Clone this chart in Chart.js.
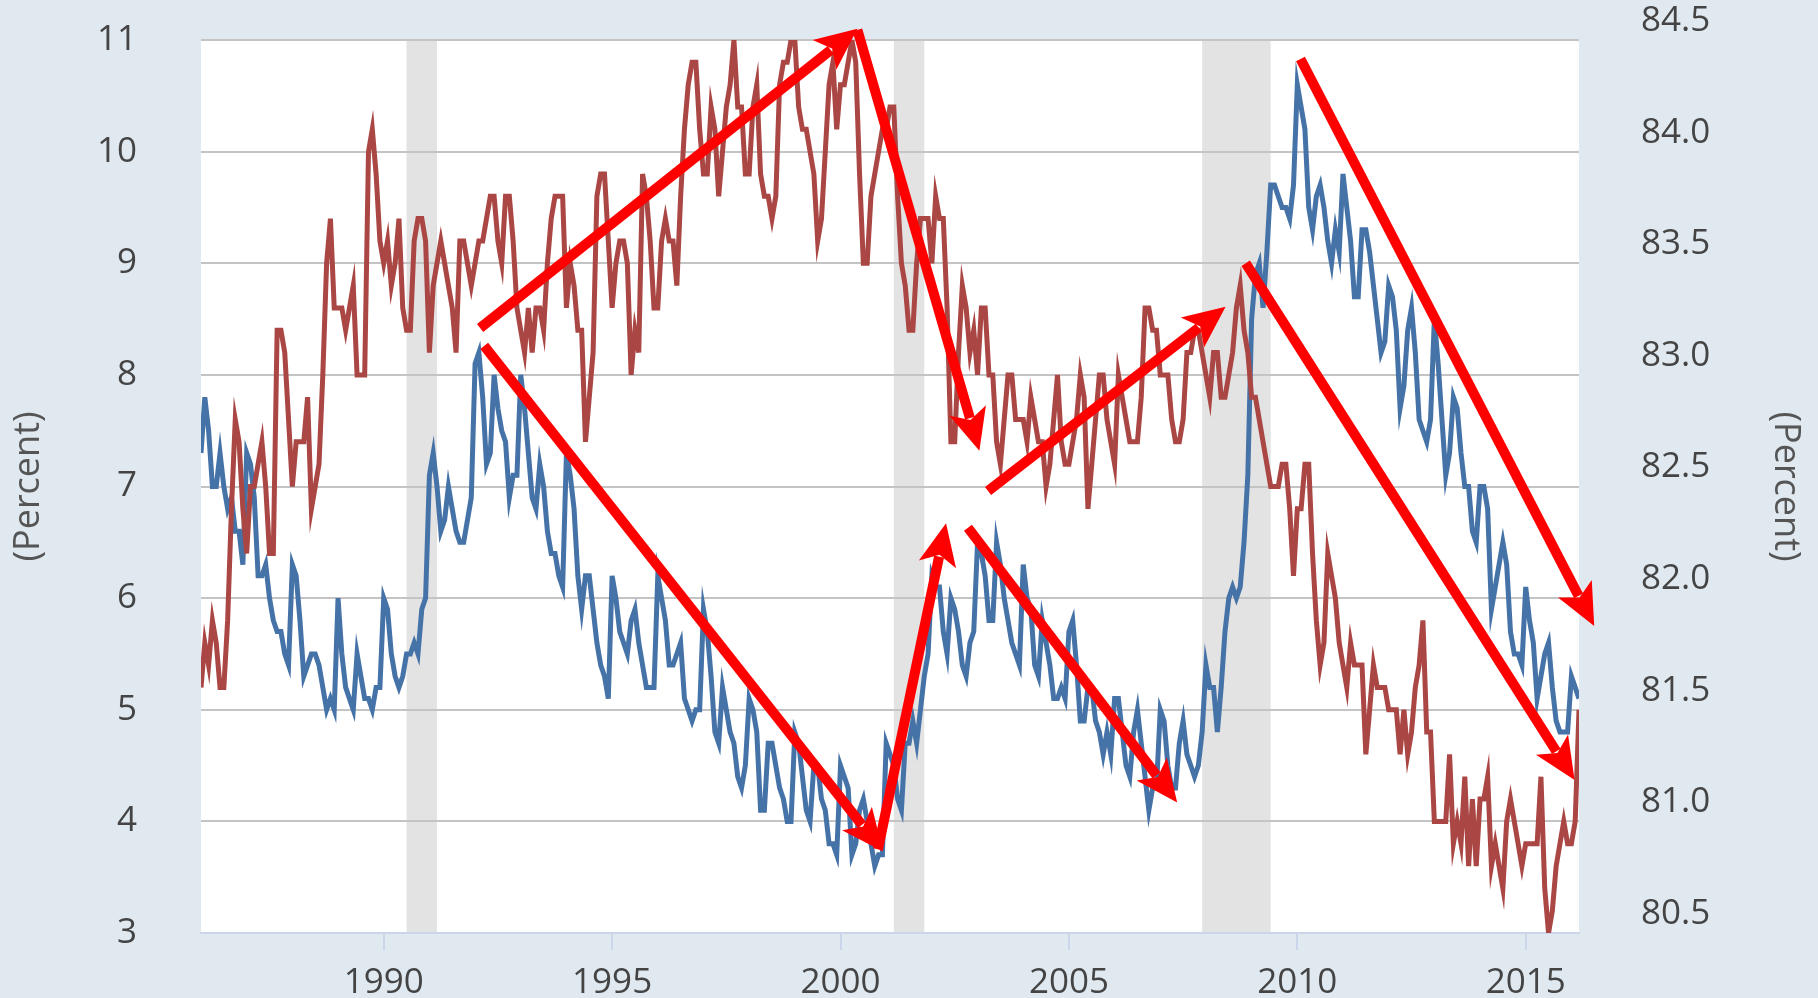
<!DOCTYPE html>
<html>
<head>
<meta charset="utf-8">
<script src="https://cdn.jsdelivr.net/npm/chart.js@4.4.1/dist/chart.umd.min.js"></script>
<style>
  html, body { margin: 0; padding: 0; background: #e1e9f0; }
  #wrap { width: 1818px; height: 998px; }
</style>
</head>
<body>
<div id="wrap"><canvas id="c" width="1818" height="998"></canvas></div>
<script>
// ---------- DATA (monthly, Jan 1986 - Mar 2016) ----------
const startYear = 1986;

// Unemployment rate, not seasonally adjusted (left axis, percent)
const unemployment1986to1995 = [
  7.3,7.8,7.5,7.0,7.0,7.3,7.0,6.8,6.9,6.6,6.6,6.3,
  7.3,7.2,6.9,6.2,6.2,6.3,6.0,5.8,5.7,5.7,5.5,5.4,
  6.3,6.2,5.8,5.3,5.4,5.5,5.5,5.4,5.2,5.0,5.1,5.0,
  6.0,5.5,5.2,5.1,5.0,5.5,5.3,5.1,5.1,5.0,5.2,5.2,
  6.0,5.9,5.5,5.3,5.2,5.3,5.5,5.5,5.6,5.5,5.9,6.0,
  7.1,7.3,7.0,6.6,6.7,7.0,6.8,6.6,6.5,6.5,6.7,6.9,
  8.1,8.2,7.8,7.2,7.3,8.0,7.7,7.5,7.4,6.9,7.1,7.1,
  8.0,7.7,7.3,6.9,6.8,7.2,7.0,6.6,6.4,6.4,6.2,6.1,
  7.3,7.1,6.8,6.2,5.9,6.2,6.2,5.9,5.6,5.4,5.3,5.1,
  6.2,6.0,5.7,5.6,5.5,5.8,5.9,5.6,5.4,5.2,5.2,5.2
];
const unemployment1996to2005 = [
  6.2,6.0,5.8,5.4,5.4,5.5,5.6,5.1,5.0,4.9,5.0,5.0,
  5.9,5.7,5.3,4.8,4.7,5.2,5.0,4.8,4.7,4.4,4.3,4.5,
  5.1,5.0,4.8,4.1,4.1,4.7,4.7,4.5,4.3,4.2,4.0,4.0,
  4.8,4.7,4.4,4.1,4.0,4.5,4.5,4.2,4.1,3.8,3.8,3.7,
  4.5,4.4,4.3,3.7,3.8,4.1,4.2,4.0,3.8,3.6,3.7,3.7,
  4.7,4.6,4.5,4.2,4.1,4.7,4.7,4.9,4.7,5.0,5.3,5.5,
  6.2,6.1,6.1,5.7,5.5,6.0,5.9,5.7,5.4,5.3,5.6,5.7,
  6.5,6.4,6.2,5.8,5.8,6.5,6.3,6.0,5.8,5.6,5.5,5.4,
  6.3,6.0,5.9,5.4,5.3,5.8,5.6,5.4,5.1,5.1,5.2,5.1,
  5.7,5.8,5.4,4.9,4.9,5.2,5.2,4.9,4.8,4.6,4.8,4.6
];
const unemployment2006to2016 = [
  5.1,5.1,4.8,4.5,4.4,4.8,5.0,4.7,4.4,4.1,4.3,4.3,
  5.0,4.9,4.5,4.3,4.3,4.7,4.9,4.6,4.5,4.4,4.5,4.8,
  5.4,5.2,5.2,4.8,5.2,5.7,6.0,6.1,6.0,6.1,6.5,7.1,
  8.5,8.9,9.0,8.6,9.1,9.7,9.7,9.6,9.5,9.5,9.4,9.7,
  10.6,10.4,10.2,9.5,9.3,9.6,9.7,9.5,9.2,9.0,9.3,9.1,
  9.8,9.5,9.2,8.7,8.7,9.3,9.3,9.1,8.8,8.5,8.2,8.3,
  8.8,8.7,8.4,7.7,7.9,8.4,8.6,8.2,7.6,7.5,7.4,7.6,
  8.5,8.1,7.6,7.1,7.3,7.8,7.7,7.3,7.0,7.0,6.6,6.5,
  7.0,7.0,6.8,5.9,6.1,6.3,6.5,6.3,5.7,5.5,5.5,5.4,
  6.1,5.8,5.6,5.1,5.3,5.5,5.6,5.2,4.9,4.8,4.8,4.8,
  5.3,5.2,5.1
];

// Labor force participation rate, ages 25-54 (right axis, percent)
const participation1986to1995 = [
  81.6,81.8,81.7,81.9,81.8,81.6,81.6,81.9,82.4,82.8,82.7,82.4,
  82.2,82.5,82.5,82.6,82.7,82.5,82.2,82.2,83.2,83.2,83.1,82.8,
  82.5,82.7,82.7,82.7,82.9,82.4,82.5,82.6,83.0,83.5,83.7,83.3,
  83.3,83.3,83.2,83.3,83.4,83.0,83.0,83.0,84.0,84.1,83.9,83.6,
  83.5,83.6,83.4,83.5,83.7,83.3,83.2,83.2,83.6,83.7,83.7,83.6,
  83.1,83.4,83.5,83.6,83.5,83.4,83.3,83.1,83.6,83.6,83.5,83.4,
  83.5,83.6,83.6,83.7,83.8,83.8,83.6,83.5,83.8,83.8,83.6,83.3,
  83.2,83.1,83.3,83.1,83.3,83.3,83.2,83.5,83.7,83.8,83.8,83.8,
  83.3,83.5,83.4,83.2,83.2,82.7,82.9,83.1,83.8,83.9,83.9,83.6,
  83.3,83.5,83.6,83.6,83.5,83.0,83.2,83.1,83.9,83.8,83.6,83.3
];
const participation1996to2005 = [
  83.3,83.6,83.7,83.6,83.6,83.4,83.8,84.1,84.3,84.4,84.4,84.1,
  83.9,83.9,84.2,84.1,83.8,84.0,84.2,84.3,84.5,84.2,84.2,83.9,
  83.9,84.2,84.3,83.9,83.8,83.8,83.7,83.8,84.3,84.4,84.4,84.5,
  84.5,84.2,84.1,84.1,84.0,83.9,83.6,83.7,84.0,84.3,84.4,84.1,
  84.3,84.3,84.4,84.5,84.4,83.9,83.5,83.5,83.8,83.9,84.0,84.1,
  84.1,84.2,84.2,83.8,83.5,83.4,83.2,83.2,83.5,83.7,83.7,83.7,
  83.5,83.8,83.7,83.7,83.3,82.7,82.7,83.1,83.4,83.3,83.1,83.2,
  83.0,83.3,83.3,83.0,83.0,82.7,82.6,82.8,83.0,83.0,82.8,82.8,
  82.8,82.7,82.9,82.8,82.7,82.7,82.5,82.6,82.8,83.0,82.7,82.6,
  82.6,82.7,82.8,83.0,82.9,82.4,82.6,82.8,83.0,83.0,82.8,82.7
];
const participation2006to2016 = [
  82.6,83.0,82.9,82.8,82.7,82.7,82.7,82.9,83.3,83.3,83.2,83.2,
  83.0,83.0,83.0,82.8,82.7,82.7,82.8,83.1,83.1,83.2,83.2,83.1,
  83.0,82.9,83.1,83.1,82.9,82.9,83.0,83.1,83.3,83.4,83.2,83.1,
  82.9,82.9,82.8,82.7,82.6,82.5,82.5,82.5,82.6,82.6,82.4,82.1,
  82.4,82.4,82.6,82.6,82.2,81.9,81.7,81.8,82.2,82.1,82.0,81.8,
  81.7,81.6,81.8,81.7,81.7,81.7,81.3,81.5,81.7,81.6,81.6,81.6,
  81.5,81.5,81.5,81.3,81.5,81.3,81.4,81.6,81.7,81.9,81.4,81.4,
  81.0,81.0,81.0,81.0,81.3,80.9,81.0,80.9,81.2,80.8,81.1,80.8,
  81.1,81.1,81.2,80.8,80.9,80.8,80.7,81.0,81.1,81.0,80.9,80.8,
  80.9,80.9,80.9,80.9,81.2,80.7,80.5,80.6,80.8,80.9,81.0,80.9,
  80.9,81.0,81.5
];

const xTickYears = [1990, 1995, 2000, 2005, 2010, 2015];
const leftAxisMin = 3, leftAxisMax = 11, leftAxisStep = 1;
const rightAxisMin = 80.5, rightAxisMax = 84.5, rightAxisStep = 0.5;
const axisTitle = '(Percent)';

// Recession periods (decimal years)
const recessionStarts = [1990 + 6/12, 2001 + 2/12, 2007 + 11/12];
const recessionEnds   = [1991 + 2/12, 2001 + 10/12, 2009 + 5/12];

// Red trend arrows (decimal year, left-axis value)
const arrowFromYear = [1992.11, 2000.37, 1992.20, 2000.82, 2002.79, 2003.23, 2008.87, 2010.07];
const arrowFromVal  = [8.42,    11.09,   8.26,    3.75,    6.63,    6.96,    9.00,    10.83];
const arrowToYear   = [2000.37, 2003.04, 2000.93, 2002.31, 2007.37, 2008.43, 2016.07, 2016.50];
const arrowToVal    = [11.10,   7.32,    3.73,    6.67,    4.17,    8.61,    4.37,    5.75];

// ---------- BUILD ----------
const unemployment = unemployment1986to1995.concat(unemployment1996to2005, unemployment2006to2016);
const participation = participation1986to1995.concat(participation1996to2005, participation2006to2016);
const monthYear = unemployment.map((_, i) => startYear + i / 12);
const xMax = monthYear[monthYear.length - 1];

const FONT = "'Open Sans', 'DejaVu Sans', sans-serif";
const TEXT = '#444444';

const decorPlugin = {
  id: 'decor',
  beforeDraw(chart) {
    const { ctx, chartArea: a, scales } = chart;
    const xs = scales.x;
    ctx.save();
    ctx.fillStyle = '#e1e9f0';
    ctx.fillRect(0, 0, chart.width, chart.height);
    ctx.fillStyle = '#ffffff';
    ctx.fillRect(a.left, a.top, a.right - a.left, a.bottom - a.top);
    ctx.fillStyle = '#e3e3e3';
    recessionStarts.forEach((s, i) => {
      const x0 = xs.getPixelForValue(s);
      const x1 = xs.getPixelForValue(recessionEnds[i]);
      ctx.fillRect(x0, a.top, x1 - x0, a.bottom - a.top);
    });
    ctx.restore();
  },
  afterDraw(chart) {
    const { ctx, scales } = chart;
    const xs = scales.x, ys = scales.y;
    ctx.save();
    ctx.strokeStyle = '#ff0000';
    ctx.fillStyle = '#ff0000';
    ctx.lineWidth = 10;
    ctx.lineCap = 'butt';
    const headLen = 38, headW = 19;
    for (let i = 0; i < arrowFromYear.length; i++) {
      const x0 = xs.getPixelForValue(arrowFromYear[i]);
      const y0 = ys.getPixelForValue(arrowFromVal[i]);
      const x1 = xs.getPixelForValue(arrowToYear[i]);
      const y1 = ys.getPixelForValue(arrowToVal[i]);
      const dx = x1 - x0, dy = y1 - y0, len = Math.hypot(dx, dy);
      const ux = dx / len, uy = dy / len;
      const bx = x1 - ux * headLen, by = y1 - uy * headLen;
      ctx.beginPath();
      ctx.moveTo(x0, y0);
      ctx.lineTo(bx + ux * 4, by + uy * 4);
      ctx.stroke();
      ctx.beginPath();
      ctx.moveTo(x1, y1);
      ctx.lineTo(bx - uy * headW - ux * 4, by + ux * headW - uy * 4);
      ctx.lineTo(bx + ux * 6, by + uy * 6);
      ctx.lineTo(bx + uy * headW - ux * 4, by - ux * headW - uy * 4);
      ctx.closePath();
      ctx.fill();
    }
    ctx.restore();
  }
};

Chart.defaults.font.family = FONT;

new Chart(document.getElementById('c'), {
  type: 'line',
  data: {
    datasets: [
      {
        label: 'Participation rate 25-54',
        data: monthYear.map((t, i) => ({ x: t, y: participation[i] })),
        yAxisID: 'y1',
        borderColor: '#aa4643',
        borderWidth: 5,
        pointRadius: 0,
        tension: 0,
        fill: false
      },
      {
        label: 'Unemployment rate',
        data: monthYear.map((t, i) => ({ x: t, y: unemployment[i] })),
        yAxisID: 'y',
        borderColor: '#4572a7',
        borderWidth: 5,
        pointRadius: 0,
        tension: 0,
        fill: false
      }
    ]
  },
  options: {
    responsive: false,
    devicePixelRatio: 1,
    animation: false,
    layout: { padding: { top: 40, left: 0, right: 0, bottom: 0 } },
    plugins: { legend: { display: false }, tooltip: { enabled: false } },
    scales: {
      x: {
        type: 'linear',
        min: startYear,
        max: xMax,
        afterBuildTicks(axis) { axis.ticks = xTickYears.map(v => ({ value: v })); },
        afterFit(scale) { scale.height = 65; scale.paddingLeft = 0; scale.paddingRight = 0; },
        ticks: {
          autoSkip: false,
          maxRotation: 0,
          padding: 12,
          color: TEXT,
          font: { size: 35, family: FONT },
          callback: v => String(v)
        },
        grid: {
          drawOnChartArea: false,
          drawTicks: true,
          tickLength: 17,
          color: '#ccd6eb',
          lineWidth: 2
        },
        border: { display: true, color: '#ccd6eb', width: 2 }
      },
      y: {
        position: 'left',
        min: leftAxisMin,
        max: leftAxisMax,
        afterFit(scale) { scale.width = 201; scale.paddingTop = 0; scale.paddingBottom = 0; },
        ticks: {
          stepSize: leftAxisStep,
          padding: 64,
          color: TEXT,
          font: { size: 35, family: FONT },
          callback: v => String(v)
        },
        grid: {
          drawTicks: false,
          lineWidth: 2,
          color: c => (c.tick && c.tick.value === leftAxisMin) ? 'rgba(0,0,0,0)' : '#c4c4c4'
        },
        border: { display: false },
        title: {
          display: true,
          text: axisTitle,
          color: '#555555',
          font: { size: 36, family: FONT },
          padding: { top: 7, bottom: 0 }
        }
      },
      y1: {
        position: 'right',
        min: rightAxisMin,
        max: rightAxisMax,
        afterFit(scale) { scale.width = 239; scale.paddingTop = 0; scale.paddingBottom = 0; },
        ticks: {
          stepSize: rightAxisStep,
          padding: 62,
          labelOffset: -19,
          color: TEXT,
          font: { size: 35, family: FONT },
          callback: v => Number(v).toFixed(1)
        },
        grid: { drawOnChartArea: false, drawTicks: false },
        border: { display: false },
        title: {
          display: true,
          text: axisTitle,
          color: '#555555',
          font: { size: 36, family: FONT },
          padding: { top: 11, bottom: 0 }
        }
      }
    }
  },
  plugins: [decorPlugin]
});
</script>
</body>
</html>
